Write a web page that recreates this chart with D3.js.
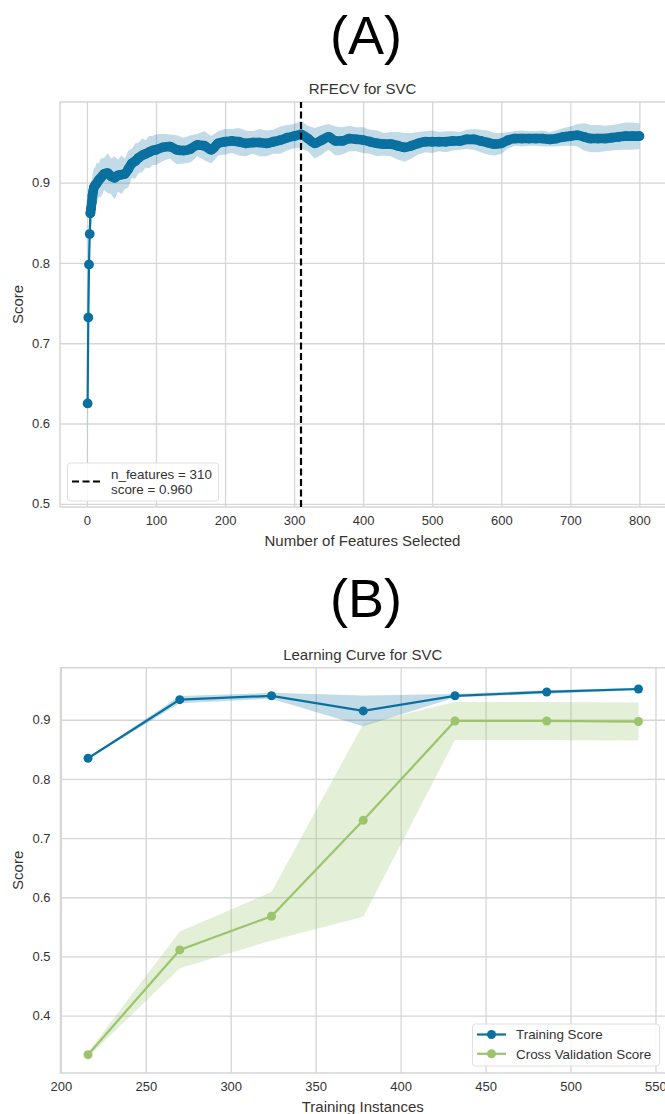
<!DOCTYPE html>
<html>
<head>
<meta charset="utf-8">
<script src="https://cdn.jsdelivr.net/npm/d3@7"></script>
<style>
  html, body { margin: 0; padding: 0; background: #fff; }
  svg { display: block; font-family: "Liberation Sans", Arial, sans-serif; }
</style>
</head>
<body>
<svg id="chart" width="665" height="1114"></svg>
<script>
// ---------- Data: RFECV (A) ----------
const rfeFeatures = [1,2,3,4,5,6,7,8,9,10,12,14,17,20,25,30,35,40,45,50,55,60,65,70,75,80,85,90,95,100,
  110,120,130,140,150,160,170,180,190,200,
  210,220,230,240,250,260,270,280,290,300,
  310,320,330,340,350,360,370,380,390,400,
  410,420,430,440,450,460,470,480,490,500,
  510,520,530,540,550,560,570,580,590,600,
  610,620,630,640,650,660,670,680,690,700,
  710,720,730,740,750,760,770,780,790,800];
const rfeScores = [0.625,0.732,0.798,0.836,0.862,0.868,0.876,0.884,0.889,0.894,0.897,0.899,0.903,0.906,0.911,0.912,0.908,0.906,0.909,0.910,0.911,0.917,0.924,0.927,0.931,0.934,0.936,0.938,0.940,0.941,
  0.944,0.945,0.941,0.940,0.942,0.947,0.946,0.941,0.949,0.951,
  0.952,0.951,0.949,0.950,0.950,0.949,0.951,0.953,0.956,0.958,
  0.960,0.955,0.949,0.953,0.957,0.952,0.952,0.955,0.954,0.953,
  0.951,0.949,0.948,0.948,0.946,0.944,0.946,0.949,0.951,0.951,
  0.951,0.951,0.952,0.952,0.954,0.954,0.952,0.950,0.948,0.949,
  0.953,0.955,0.955,0.955,0.955,0.955,0.954,0.955,0.957,0.958,
  0.959,0.957,0.955,0.955,0.955,0.956,0.957,0.958,0.958,0.958];
const rfeStd = [0.14,0.08,0.05,0.035,0.03,0.028,0.027,0.026,0.025,0.024,0.022,0.026,0.021,0.024,0.020,0.025,0.022,0.027,0.020,0.024,0.019,0.023,0.018,0.022,0.019,0.021,0.017,0.020,0.018,0.019,
  0.017,0.015,0.018,0.016,0.017,0.014,0.018,0.017,0.015,0.016,
  0.015,0.017,0.016,0.014,0.017,0.016,0.015,0.017,0.016,0.015,
  0.017,0.016,0.019,0.018,0.016,0.018,0.017,0.016,0.015,0.016,
  0.015,0.016,0.014,0.015,0.017,0.018,0.016,0.014,0.013,0.014,
  0.012,0.013,0.012,0.011,0.012,0.013,0.014,0.015,0.014,0.013,
  0.010,0.009,0.010,0.009,0.009,0.010,0.009,0.010,0.011,0.012,
  0.014,0.017,0.017,0.017,0.016,0.016,0.016,0.017,0.017,0.016];
const rfeBest = 310;
const rfeBestScore = 0.960;
const rfeXTicks = [0,100,200,300,400,500,600,700,800];
const rfeYTicks = [0.5,0.6,0.7,0.8,0.9];

// ---------- Data: Learning curve (B) ----------
const lcSizes = [216,270,324,378,432,486,540];
const lcTrainMean = [0.835,0.934,0.9405,0.915,0.9405,0.947,0.952];
const lcTrainStd = [0.001,0.006,0.005,0.026,0.003,0.003,0.002];
const lcCvMean = [0.334,0.511,0.568,0.730,0.898,0.898,0.897];
const lcCvStd = [0.004,0.031,0.041,0.163,0.032,0.032,0.032];
const lcXTicks = [200,250,300,350,400,450,500,550];
const lcYTicks = [0.4,0.5,0.6,0.7,0.8,0.9];

// ---------- Styles ----------
const BLUE = "#0a70a0";
const GREEN = "#9bc46c";
const GRID = "#d6d6d6";
const TXT = "#333333";
const FONT = '"Liberation Sans", Arial, sans-serif';

const svg = d3.select("#chart");

function panel(opts) {
  const g = svg.append("g");
  const {left, right, top, bottom} = opts.box;
  const x = d3.scaleLinear().domain(opts.xDomain).range([left, right]);
  const y = d3.scaleLinear().domain(opts.yDomain).range([bottom, top]);

  const cid = "clip" + opts.id;
  svg.append("clipPath").attr("id", cid)
    .append("rect").attr("x", left).attr("y", top).attr("width", right - left).attr("height", bottom - top);

  g.append("g").attr("transform", `translate(0,${bottom})`)
    .call(d3.axisBottom(x).tickValues(opts.xTicks).tickSize(-(bottom - top)).tickFormat(""))
    .call(s => s.select(".domain").remove())
    .call(s => s.selectAll("line").attr("stroke", GRID).attr("stroke-width", 1.3));
  g.append("g").attr("transform", `translate(${left},0)`)
    .call(d3.axisLeft(y).tickValues(opts.yTicks).tickSize(-(right - left)).tickFormat(""))
    .call(s => s.select(".domain").remove())
    .call(s => s.selectAll("line").attr("stroke", GRID).attr("stroke-width", 1.3));

  g.append("rect").attr("x", left).attr("y", top).attr("width", right - left).attr("height", bottom - top)
    .attr("fill", "none").attr("stroke", GRID).attr("stroke-width", 1.5);

  const xt = g.append("g").attr("transform", `translate(0,${bottom + 5})`)
    .call(d3.axisBottom(x).tickValues(opts.xTicks).tickSize(0).tickPadding(0).tickFormat(opts.xFmt));
  xt.select(".domain").remove();
  xt.selectAll("text").attr("font-size", "13px").attr("fill", TXT)
    .attr("font-family", FONT).attr("dy", "0.71em").attr("y", 4);

  const yt = g.append("g").attr("transform", `translate(${left - 10},0)`)
    .call(d3.axisLeft(y).tickValues(opts.yTicks).tickSize(0).tickPadding(0).tickFormat(d3.format(".1f")));
  yt.select(".domain").remove();
  yt.selectAll("text").attr("font-size", "13px").attr("fill", TXT).attr("font-family", FONT);

  const cx = (left + 665) / 2;
  g.append("text").attr("x", cx).attr("y", top - 8).attr("text-anchor", "middle")
    .attr("font-size", "15px").attr("fill", TXT).text(opts.title);
  g.append("text").attr("x", cx).attr("y", bottom + 39).attr("text-anchor", "middle")
    .attr("font-size", "15px").attr("fill", TXT).text(opts.xLabel);
  g.append("text").attr("transform", `translate(23,${(top + bottom) / 2}) rotate(-90)`)
    .attr("text-anchor", "middle").attr("font-size", "15px").attr("fill", TXT).text("Score");

  const plot = g.append("g").attr("clip-path", `url(#${cid})`);
  return {g, plot, x, y};
}

// ---------- Panel A ----------
svg.append("text").attr("x", 366).attr("y", 54).attr("text-anchor", "middle")
  .attr("font-size", "54px").attr("fill", "#000").text("(A)");

const A = panel({
  id: "A",
  box: {left: 60, right: 667, top: 102, bottom: 507},
  xDomain: [-39, 840], yDomain: [0.496, 1.0005],
  xTicks: rfeXTicks, yTicks: rfeYTicks, xFmt: d3.format("d"),
  title: "RFECV for SVC", xLabel: "Number of Features Selected"
});

const rfe = rfeFeatures.map((f, i) => ({x: f, y: rfeScores[i], s: rfeStd[i]}));
A.plot.append("path").datum(rfe)
  .attr("fill", BLUE).attr("fill-opacity", 0.25)
  .attr("d", d3.area().x(d => A.x(d.x)).y0(d => A.y(d.y - d.s)).y1(d => A.y(d.y + d.s)));
A.plot.append("path").datum(rfe)
  .attr("fill", "none").attr("stroke", BLUE).attr("stroke-width", 2.2)
  .attr("d", d3.line().x(d => A.x(d.x)).y(d => A.y(d.y)));
// markers overlap densely (one per feature count) -> continuous thick band where points are dense
A.plot.append("path").datum(rfe.filter(d => d.x >= 5))
  .attr("fill", "none").attr("stroke", BLUE).attr("stroke-width", 9.6)
  .attr("stroke-linejoin", "round").attr("stroke-linecap", "round")
  .attr("d", d3.line().curve(d3.curveMonotoneX).x(d => A.x(d.x)).y(d => A.y(d.y)));
A.plot.selectAll("circle.m").data(rfe).join("circle")
  .attr("cx", d => A.x(d.x)).attr("cy", d => A.y(d.y)).attr("r", 4.9).attr("fill", BLUE);
A.plot.append("line")
  .attr("x1", A.x(rfeBest)).attr("x2", A.x(rfeBest))
  .attr("y1", A.y(A.y.domain()[0])).attr("y2", A.y(A.y.domain()[1]))
  .attr("stroke", "#000").attr("stroke-width", 2.2).attr("stroke-dasharray", "7,3.5");

// legend A
{
  const lg = A.g.append("g");
  lg.append("rect").attr("x", 67.5).attr("y", 463).attr("width", 151).attr("height", 38).attr("rx", 3)
    .attr("fill", "#fff").attr("fill-opacity", 0.85).attr("stroke", "#e0e0e0").attr("stroke-width", 1);
  lg.append("line").attr("x1", 72).attr("x2", 100).attr("y1", 481.5).attr("y2", 481.5)
    .attr("stroke", "#000").attr("stroke-width", 2.2).attr("stroke-dasharray", "7,3.5");
  lg.append("text").attr("x", 111).attr("y", 478.5).attr("font-size", "13.4px").attr("fill", TXT)
    .text(`n_features = ${rfeBest}`);
  lg.append("text").attr("x", 111).attr("y", 493.5).attr("font-size", "13.4px").attr("fill", TXT)
    .text(`score = ${rfeBestScore.toFixed(3)}`);
}

// ---------- Panel B ----------
svg.append("text").attr("x", 366).attr("y", 617).attr("text-anchor", "middle")
  .attr("font-size", "54px").attr("fill", "#000").text("(B)");

const B = panel({
  id: "B",
  box: {left: 60.5, right: 666, top: 667.7, bottom: 1073},
  xDomain: [199.8, 556.2], yDomain: [0.303, 0.988],
  xTicks: lcXTicks, yTicks: lcYTicks, xFmt: d3.format("d"),
  title: "Learning Curve for SVC", xLabel: "Training Instances"
});

const tr = lcSizes.map((s, i) => ({x: s, y: lcTrainMean[i], s: lcTrainStd[i]}));
const cv = lcSizes.map((s, i) => ({x: s, y: lcCvMean[i], s: lcCvStd[i]}));
const areaB = d3.area().x(d => B.x(d.x)).y0(d => B.y(d.y - d.s)).y1(d => B.y(d.y + d.s));
const lineB = d3.line().x(d => B.x(d.x)).y(d => B.y(d.y));

B.plot.append("path").datum(tr).attr("fill", BLUE).attr("fill-opacity", 0.25).attr("d", areaB);
B.plot.append("path").datum(cv).attr("fill", GREEN).attr("fill-opacity", 0.28).attr("d", areaB);
[[tr, BLUE], [cv, GREEN]].forEach(([data, col]) => {
  B.plot.append("path").datum(data).attr("fill", "none").attr("stroke", col).attr("stroke-width", 2.2).attr("d", lineB);
  B.plot.append("g").selectAll("circle").data(data).join("circle")
    .attr("cx", d => B.x(d.x)).attr("cy", d => B.y(d.y)).attr("r", 4.5).attr("fill", col);
});

// legend B
{
  const lg = B.g.append("g");
  lg.append("rect").attr("x", 472.5).attr("y", 1024).attr("width", 187).attr("height", 42).attr("rx", 3)
    .attr("fill", "#fff").attr("fill-opacity", 0.85).attr("stroke", "#e0e0e0").attr("stroke-width", 1);
  const items = [["Training Score", BLUE, 1034.5], ["Cross Validation Score", GREEN, 1053.8]];
  items.forEach(([label, col, yy]) => {
    lg.append("line").attr("x1", 477).attr("x2", 506).attr("y1", yy).attr("y2", yy)
      .attr("stroke", col).attr("stroke-width", 2.2);
    lg.append("circle").attr("cx", 491.5).attr("cy", yy).attr("r", 4.5).attr("fill", col);
    lg.append("text").attr("x", 516).attr("y", yy + 4.7).attr("font-size", "13.4px").attr("fill", TXT).text(label);
  });
}
</script>
</body>
</html>
